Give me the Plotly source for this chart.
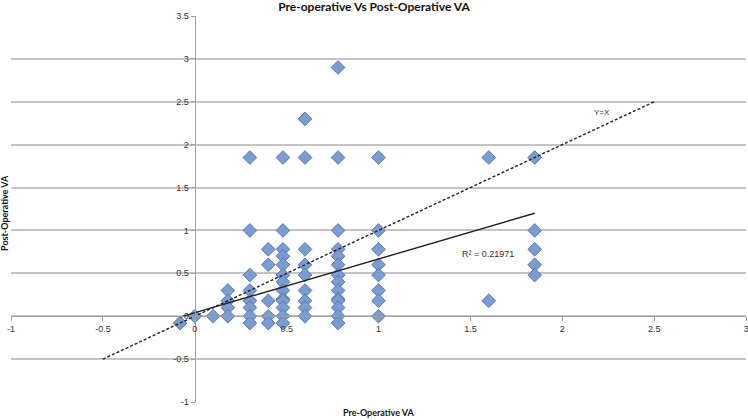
import plotly.graph_objects as go

# Pre-operative VA (x) and post-operative VA (y), logMAR
pre_va = (
    [-0.08, 0.0, 0.1]
    + [0.18] * 4
    + [0.3] * 8
    + [0.4] * 5
    + [0.48] * 13
    + [0.6] * 9
    + [0.78] * 14
    + [1.0] * 8
    + [1.6] * 2
    + [1.85] * 5
)
post_va = (
    [-0.08, 0.0, 0.0]
    + [0.3, 0.18, 0.1, 0.0]
    + [1.85, 1.0, 0.48, 0.3, 0.18, 0.1, 0.0, -0.08]
    + [0.78, 0.6, 0.18, 0.0, -0.08]
    + [1.85, 1.0, 0.78, 0.7, 0.6, 0.48, 0.4, 0.3, 0.2, 0.18, 0.1, 0.0, -0.08]
    + [2.3, 1.85, 0.78, 0.6, 0.48, 0.3, 0.18, 0.1, 0.0]
    + [2.9, 1.85, 1.0, 0.78, 0.7, 0.6, 0.48, 0.4, 0.3, 0.2, 0.18, 0.1, 0.0, -0.08]
    + [1.85, 1.0, 0.78, 0.6, 0.48, 0.3, 0.18, 0.0]
    + [1.85, 0.18]
    + [1.85, 1.0, 0.78, 0.6, 0.48]
)

# Reference line Y=X and linear trend line end points
identity_x = [-0.5, 2.5]
identity_y = [-0.5, 2.5]
trend_x = [-0.08, 1.85]
trend_y = [-0.01, 1.2]
r_squared_label = "R² = 0.21971"

x_ticks = [-1, -0.5, 0, 0.5, 1, 1.5, 2, 2.5, 3]
y_ticks = [-1, -0.5, 0, 0.5, 1, 1.5, 2, 2.5, 3, 3.5]

fig = go.Figure()
fig.add_trace(go.Scatter(
    x=pre_va, y=post_va, mode="markers",
    marker=dict(symbol="diamond", size=10.5, color="#7b9cd3",
                line=dict(color="#5a78ad", width=1)),
    showlegend=False, hoverinfo="x+y",
))
fig.add_trace(go.Scatter(
    x=identity_x, y=identity_y, mode="lines",
    line=dict(color="#222222", width=1.4, dash="3px,2px"),
    showlegend=False,
))
fig.add_trace(go.Scatter(
    x=trend_x, y=trend_y, mode="lines",
    line=dict(color="#222222", width=1.4),
    showlegend=False,
))

tickfont = dict(family="Liberation Sans, Arial, sans-serif", size=9, color="#333333")

fig.update_layout(
    width=748, height=420,
    margin=dict(l=11, r=2, t=16, b=18),
    paper_bgcolor="white", plot_bgcolor="white",
    title=dict(text="<b>Pre-operative Vs Post-Operative VA</b>",
               font=dict(family="Lato, sans-serif", size=12, color="#111111"),
               x=0.5, xanchor="center", y=0.985, yanchor="middle"),
    xaxis=dict(range=[-1, 3], tickvals=x_ticks, ticktext=[f"{v:g}" for v in x_ticks],
               showgrid=False, zeroline=False, showline=True, linecolor="#a0a0a0",
               linewidth=1.2, ticks="outside", ticklen=4, tickcolor="#a0a0a0",
               anchor="free", position=1 / 4.5, tickfont=tickfont, automargin=False,
               ticklabeloverflow="allow"),
    yaxis=dict(range=[-1, 3.5], tickvals=y_ticks, ticktext=[f"{v:g}" for v in y_ticks],
               showgrid=True, gridcolor="#c4c4c4", gridwidth=1.5,
               zeroline=False, showline=True, linecolor="#a0a0a0", linewidth=1.2,
               ticks="outside", ticklen=4, tickcolor="#a0a0a0",
               anchor="free", position=0.25, tickfont=tickfont, automargin=False,
               ticklabeloverflow="allow"),
    annotations=[
        dict(x=2.215, y=2.37, xref="x", yref="y", text="Y=X", showarrow=False,
             font=dict(family="Liberation Sans, Arial, sans-serif", size=8, color="#333333")),
        dict(x=1.595, y=0.73, xref="x", yref="y", text=r_squared_label, showarrow=False,
             font=dict(family="Liberation Sans, Arial, sans-serif", size=9, color="#333333")),
        dict(x=0.5, y=-0.028, xref="paper", yref="paper", text="<b>Pre-Operative VA</b>",
             showarrow=False, xanchor="center", yanchor="middle",
             font=dict(family="Lato, sans-serif", size=9, color="#111111")),
        dict(x=-0.008, y=0.49, xref="paper", yref="paper", text="<b>Post-Operative VA</b>",
             showarrow=False, textangle=-90, xanchor="center", yanchor="middle",
             font=dict(family="Lato, sans-serif", size=9, color="#111111")),
    ],
)

fig.write_html("out.html", config={"displayModeBar": False},
               post_script="document.body.style.margin='0';")
